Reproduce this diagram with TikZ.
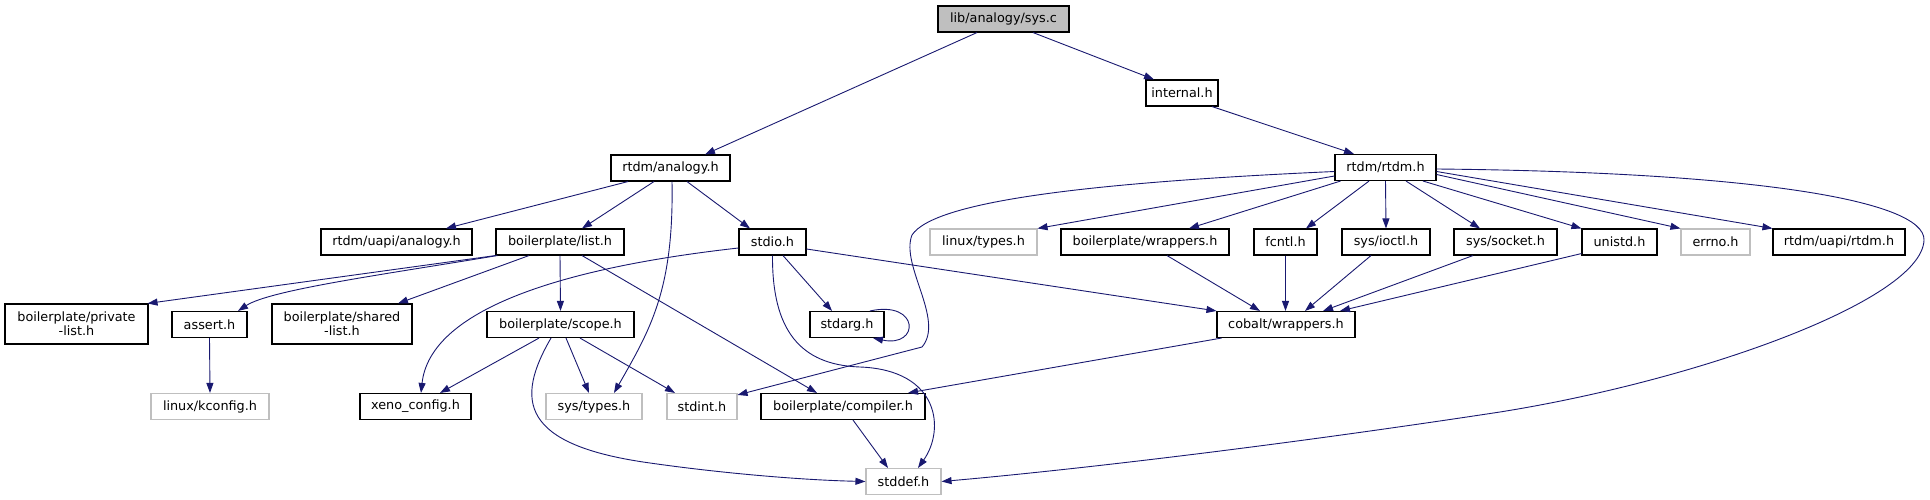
\documentclass[tikz,border=0pt]{standalone}
\usepackage{fontspec}
\setmainfont{DejaVu Sans}
\usetikzlibrary{arrows.meta}
\definecolor{edgeblue}{HTML}{191970}
\definecolor{greyline}{HTML}{BFBFBF}
\begin{document}
\begin{tikzpicture}[x=1pt,y=1pt,
  box/.style={draw=black, line width=1.1pt, minimum height=26pt, inner xsep=3pt, inner ysep=0pt, font=\fontsize{12.8}{14}\selectfont, text=black},
  ext/.style={box, draw=greyline},
  root/.style={box, fill=greyline},
  two/.style={box, minimum height=40pt, align=center},
  dep/.style={draw=edgeblue, line width=0.9pt, -{Triangle[length=10pt,width=7pt]}}]
\useasboundingbox (0,0) rectangle (1930,-500);
% nodes
\node[root, minimum width=131] (sysc) at (1003.5,-19) {lib/analogy/sys.c};
\node[box, minimum width=72] (internal) at (1182,-93) {internal.h};
\node[box, minimum width=119] (analogy) at (670.5,-168) {rtdm/analogy.h};
\node[box, minimum width=101] (rtdm) at (1385.5,-167.5) {rtdm/rtdm.h};
\node[box, minimum width=151] (uapianalogy) at (396.5,-242) {rtdm/uapi/analogy.h};
\node[box, minimum width=128] (list) at (560,-242) {boilerplate/list.h};
\node[box, minimum width=67] (stdio) at (772.5,-242) {stdio.h};
\node[ext, minimum width=107] (linuxtypes) at (983.5,-242) {linux/types.h};
\node[box, minimum width=168] (bpwrappers) at (1145,-242) {boilerplate/wrappers.h};
\node[box, minimum width=63] (fcntl) at (1285.5,-242) {fcntl.h};
\node[box, minimum width=88] (ioctl) at (1386,-242) {sys/ioctl.h};
\node[box, minimum width=103] (socket) at (1505.5,-242) {sys/socket.h};
\node[box, minimum width=75] (unistd) at (1619.5,-242) {unistd.h};
\node[ext, minimum width=69] (errno) at (1715.5,-242) {errno.h};
\node[box, minimum width=132] (uapirtdm) at (1839,-242) {rtdm/uapi/rtdm.h};
\node[two, minimum width=143] (privlist) at (76.5,-324) {boilerplate/private\\-list.h};
\node[box, minimum width=75] (assert) at (209.5,-324.5) {assert.h};
\node[two, minimum width=140] (sharedlist) at (342,-324) {boilerplate/shared\\-list.h};
\node[box, minimum width=147] (scope) at (560.5,-324.5) {boilerplate/scope.h};
\node[box, minimum width=74] (stdarg) at (847,-324.5) {stdarg.h};
\node[box, minimum width=138] (cobalt) at (1286,-324.5) {cobalt/wrappers.h};
\node[ext, minimum width=118] (kconfig) at (210,-406.5) {linux/kconfig.h};
\node[box, minimum width=111] (xeno) at (415.5,-406.5) {xeno\_config.h};
\node[ext, minimum width=96] (systypes) at (594,-406.5) {sys/types.h};
\node[ext, minimum width=70] (stdint) at (702,-406.5) {stdint.h};
\node[box, minimum width=164] (compiler) at (843,-406.5) {boilerplate/compiler.h};
\node[ext, minimum width=75] (stddef) at (903.5,-481.5) {stddef.h};
% edges
\draw[dep] ([xshift=-26.5]sysc.south) -- ([xshift=34.5]analogy.north);
\draw[dep] ([xshift=29.5]sysc.south) -- ([xshift=-28]internal.north);
\draw[dep] ([xshift=30]internal.south) -- ([xshift=-31.5]rtdm.north);
\draw[dep] ([xshift=-42.5]analogy.south) -- ([xshift=49.5]uapianalogy.north);
\draw[dep] ([xshift=-16.5]analogy.south) -- ([xshift=22]list.north);
\draw[dep] ([xshift=16.5]analogy.south) -- ([xshift=-22.5]stdio.north);
\draw[dep] ([xshift=1.5]analogy.south) .. controls (674,-290) and (650,-330) .. ([xshift=20]systypes.north);
\draw[dep] (list.south west) -- ([xshift=-1]privlist.north east);
\draw[dep] ([xshift=2]list.south west) .. controls (380,-275) and (270,-290) .. ([xshift=28.5]assert.north);
\draw[dep] ([xshift=-31]list.south) -- ([xshift=56]sharedlist.north);
\draw[dep] (list.south) -- (scope.north);
\draw[dep] ([xshift=22]list.south) -- ([xshift=-26]compiler.north);
\draw[dep] ([yshift=-6]stdio.west) .. controls (560,-268) and (430,-310) .. ([xshift=5.5]xeno.north);
\draw[dep] ([xshift=-21.5]scope.south) -- ([xshift=24.5]xeno.north);
\draw[dep] ([xshift=5.5]scope.south) -- ([xshift=-5]systypes.north);
\draw[dep] ([xshift=19.5]scope.south) -- ([xshift=-27]stdint.north);
\draw[dep] ([xshift=-9.5]scope.south) .. controls (515,-400) and (520,-445) .. (650,-463) .. controls (720,-473) and (800,-480) .. (stddef.west);
\draw[dep] ([xshift=10.5]stdio.south) -- ([xshift=-15]stdarg.north);
\draw[dep] ([yshift=-7]stdio.east) -- (cobalt.north west);
\draw[dep] (stdio.south) .. controls (772,-330) and (800,-365) .. (860,-367) .. controls (940,-370) and (945,-430) .. ([xshift=14.5]stddef.north);
\draw[dep] ([xshift=23]stdarg.north) .. controls (920,-300) and (920,-348) .. ([xshift=26]stdarg.south);
\draw[dep] ([yshift=-8.5]rtdm.west) -- (linuxtypes.north east);
\draw[dep] ([xshift=-45]rtdm.south) -- ([xshift=44]bpwrappers.north);
\draw[dep] ([xshift=-16.5]rtdm.south) -- ([xshift=20.5]fcntl.north);
\draw[dep] (rtdm.south) -- (ioctl.north);
\draw[dep] ([xshift=20.5]rtdm.south) -- ([xshift=-25.5]socket.north);
\draw[dep] ([xshift=37.5]rtdm.south) -- (unistd.north west);
\draw[dep] ([yshift=-7]rtdm.east) -- (errno.north west);
\draw[dep] ([yshift=-4]rtdm.east) -- (uapirtdm.north west);
\draw[dep] ([yshift=-1.5]rtdm.east) .. controls (1750,-172) and (1925,-200) .. (1924,-240) .. controls (1922,-300) and (1700,-380) .. (1500,-412) .. controls (1250,-450) and (1050,-472) .. (stddef.east);
\draw[dep] ([yshift=-4]rtdm.west) .. controls (1100,-182) and (935,-200) .. (912,-235) .. controls (900,-265) and (945,-320) .. (922,-347) -- ([yshift=-2]stdint.north east);
\draw[dep] ([xshift=22]bpwrappers.south) -- ([xshift=-26]cobalt.north);
\draw[dep] (fcntl.south) -- ([xshift=-0.5]cobalt.north);
\draw[dep] ([xshift=-15]ioctl.south) -- ([xshift=19]cobalt.north);
\draw[dep] ([xshift=-32.5]socket.south) -- ([xshift=37]cobalt.north);
\draw[dep] ([yshift=2]unistd.south west) -- ([xshift=54]cobalt.north);
\draw[dep] ([xshift=5]cobalt.south west) -- ([xshift=65]compiler.north);
\draw[dep] ([xshift=10]compiler.south) -- ([xshift=-15.5]stddef.north);
\draw[dep] (assert.south) -- (kconfig.north);
\end{tikzpicture}
\end{document}
